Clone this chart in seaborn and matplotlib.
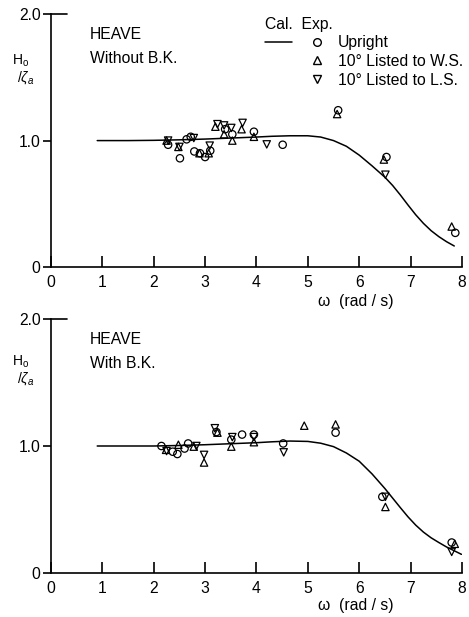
import numpy as np
import pandas as pd
import matplotlib
matplotlib.use("Agg")
import matplotlib.pyplot as plt
import seaborn as sns
from matplotlib.lines import Line2D
from matplotlib.legend_handler import HandlerTuple

sns.set_theme(style="ticks")
plt.rcParams['font.family'] = ['Liberation Sans', 'DejaVu Sans']
plt.rcParams['mathtext.fontset'] = 'custom'
plt.rcParams['mathtext.rm'] = 'Liberation Sans'
plt.rcParams['mathtext.it'] = 'Liberation Sans:italic'
plt.rcParams['text.color'] = 'black'
plt.rcParams['axes.labelcolor'] = 'black'
plt.rcParams['xtick.color'] = 'black'
plt.rcParams['ytick.color'] = 'black'

FS = 11.3

# ---- data: top panel (Without B.K.) ----
cal1_w = [0.9, 1.5, 2, 2.5, 3, 3.5, 4, 4.3, 4.65, 5.0, 5.25, 5.5, 5.75, 6.0, 6.25, 6.5, 6.65, 6.8, 6.95,
          7.1, 7.25, 7.4, 7.55, 7.7, 7.85]
cal1_h = [1.0, 1.0, 1.002, 1.006, 1.012, 1.02, 1.028, 1.034, 1.038, 1.038, 1.028, 1.0, 0.955, 0.885, 0.80,
          0.71, 0.645, 0.57, 0.49, 0.413, 0.345, 0.287, 0.24, 0.20, 0.166]
up1_w = [2.28, 2.51, 2.64, 2.72, 2.79, 2.90, 3.0, 3.1, 3.39, 3.53, 3.95, 4.51, 5.59, 6.53, 7.87]
up1_h = [0.967, 0.86, 1.01, 1.03, 0.914, 0.90, 0.87, 0.92, 1.09, 1.05, 1.07, 0.967, 1.24, 0.87, 0.27]
ws1_w = [2.25, 2.48, 2.89, 3.07, 3.2, 3.37, 3.53, 3.71, 3.95, 5.57, 6.48, 7.8]
ws1_h = [1.0, 0.95, 0.90, 0.90, 1.11, 1.05, 1.0, 1.09, 1.03, 1.21, 0.85, 0.32]
ls1_w = [2.28, 2.5, 2.78, 3.09, 3.24, 3.37, 3.51, 3.73, 4.2, 6.51]
ls1_h = [1.0, 0.95, 1.02, 0.96, 1.13, 1.12, 1.10, 1.14, 0.97, 0.73]

# ---- data: bottom panel (With B.K.) ----
cal2_w = [0.9, 1.5, 2, 2.5, 3, 3.5, 4, 4.3, 4.65, 5.0, 5.25, 5.5, 5.75, 6.0, 6.25, 6.5, 6.65, 6.8, 6.95,
          7.1, 7.25, 7.4, 7.55, 7.7, 7.85, 7.99]
cal2_h = [1.0, 1.0, 1.0, 1.004, 1.01, 1.018, 1.026, 1.033, 1.039, 1.036, 1.022, 0.995, 0.945, 0.88, 0.78,
          0.665, 0.59, 0.515, 0.442, 0.377, 0.322, 0.277, 0.24, 0.205, 0.175, 0.147]
up2_w = [2.15, 2.37, 2.46, 2.6, 2.67, 3.22, 3.51, 3.72, 3.95, 4.52, 5.54, 6.45, 7.8]
up2_h = [1.0, 0.955, 0.937, 0.98, 1.02, 1.11, 1.05, 1.09, 1.09, 1.02, 1.105, 0.6, 0.24]
ws2_w = [2.24, 2.48, 2.78, 2.98, 3.24, 3.51, 3.95, 4.93, 5.54, 6.51, 7.86]
ws2_h = [0.97, 1.01, 0.995, 0.87, 1.105, 0.995, 1.03, 1.16, 1.17, 0.52, 0.23]
ls2_w = [2.25, 2.83, 2.98, 3.19, 3.53, 3.95, 4.53, 6.51, 7.8]
ls2_h = [0.96, 1.0, 0.93, 1.14, 1.07, 1.07, 0.95, 0.6, 0.166]

x_ticks = [0, 1, 2, 3, 4, 5, 6, 7, 8]
y_ticks = [0, 1.0, 2.0]
y_ticklabels = ["0", "1.0", "2.0"]
series_names = ["Upright", "10° Listed to W.S.", "10° Listed to L.S."]
panel_titles = [("HEAVE", "Without B.K."), ("HEAVE", "With B.K.")]

fig = plt.figure(figsize=(4.69, 6.17), dpi=100)
ax1 = fig.add_axes([0.1087, 0.5673, 0.8763, 0.4097])
ax2 = fig.add_axes([0.1087, 0.0713, 0.8763, 0.4117])

panels = [
    (ax1, cal1_w, cal1_h, [(up1_w, up1_h), (ws1_w, ws1_h), (ls1_w, ls1_h)], -0.135),
    (ax2, cal2_w, cal2_h, [(up2_w, up2_h), (ws2_w, ws2_h), (ls2_w, ls2_h)], -0.127),
]
markers = ['o', '^', 'v']

for i, (ax, cw, ch, exps, xl_y) in enumerate(panels):
    cal = pd.DataFrame({"w": cw, "h": ch})
    sns.lineplot(data=cal, x="w", y="h", ax=ax, color="black", lw=1.1)
    for (ew, eh), mk, name in zip(exps, markers, series_names):
        df = pd.DataFrame({"w": ew, "h": eh})
        sns.scatterplot(data=df, x="w", y="h", ax=ax, marker=mk, s=28,
                        facecolor="none", edgecolor="black", linewidth=0.9, zorder=3)
    ax.set_xlim(0, 8)
    ax.set_ylim(0, 2.0)
    ax.set_xlabel("")
    ax.set_ylabel("")
    ax.set_xticks(x_ticks)
    ax.set_yticks(y_ticks)
    ax.set_yticklabels(y_ticklabels)
    for s in ["top", "right"]:
        ax.spines[s].set_visible(False)
    for s in ["left", "bottom"]:
        ax.spines[s].set_linewidth(1.2)
        ax.spines[s].set_color("black")
    ax.tick_params(axis='x', direction='in', length=8, width=1.2, labelsize=FS, pad=6, colors='black')
    ax.tick_params(axis='y', direction='out', length=5.5, width=1.2, labelsize=FS, pad=2, colors='black')
    ax.axhline(2.0, xmin=0, xmax=0.04, color='black', lw=1.2, clip_on=False)
    ax.patch.set_alpha(0)
    t1, t2 = panel_titles[i]
    ax.text(0.095, 0.921, t1, transform=ax.transAxes, fontsize=FS, va='center')
    ax.text(0.095, 0.826, t2, transform=ax.transAxes, fontsize=FS, va='center')
    ax.text(0.742, xl_y, "ω  (rad / s)", transform=ax.transAxes, fontsize=FS,
            va='center', ha='center')

# y label fractions
for yb in [0.902, 0.414]:
    fig.text(0.026, yb, r"H$_\mathrm{o}$", fontsize=10, va='center')
    fig.text(0.036, yb - 0.028, r"/$\zeta_a$", fontsize=10, va='center')

# legend on the top panel
line_h = Line2D([], [], color='black', lw=1.1)
blank_h = Line2D([], [], color='none', lw=0)
hs = [Line2D([], [], marker=m, ls='none', markerfacecolor='none', markeredgecolor='black', markersize=5.5)
      for m in markers]
handles = [(line_h, hs[0]), (blank_h, hs[1]), (blank_h, hs[2])]
leg = ax1.legend(handles, series_names, handler_map={tuple: HandlerTuple(ndivide=2, pad=0.75)},
                 loc='upper left', bbox_to_anchor=(0.505, 1.015), frameon=False, fontsize=FS,
                 handlelength=4.2, handletextpad=0.45, labelspacing=0.23, borderaxespad=0,
                 title="Cal.  Exp.", title_fontsize=FS, alignment='left')

fig.savefig("out.png", dpi=100)
